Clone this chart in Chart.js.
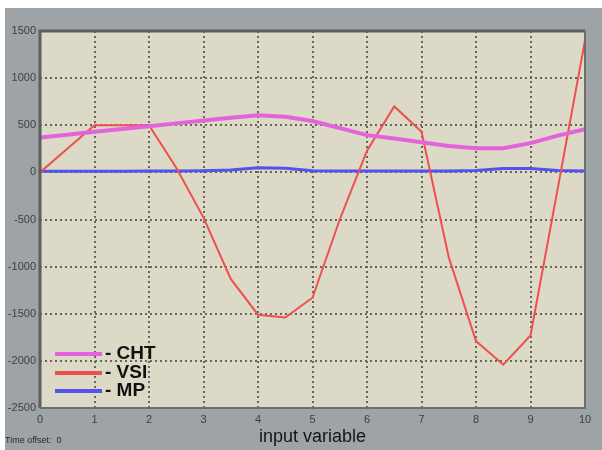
<!DOCTYPE html>
<html>
<head>
<meta charset="utf-8">
<script src="https://cdn.jsdelivr.net/npm/chart.js@4.4.0/dist/chart.umd.min.js"></script>
<style>
  html, body { margin: 0; padding: 0; background: #ffffff; }
  #wrap { position: relative; width: 602px; height: 450px; }
</style>
</head>
<body>
<div id="wrap"><canvas id="grafik"></canvas></div>
<script>
// x positions of the samples
const xDegerleri = [0, 0.5, 1, 1.5, 2, 2.5, 3, 3.5, 4, 4.5, 5, 5.5, 6, 6.5, 7, 7.5, 8, 8.5, 9, 9.5, 10];

// series
const chtDegerleri = [370, 400, 430, 460, 490, 520, 550, 580, 605, 590, 545, 470, 395, 360, 320, 280, 257, 257, 310, 390, 457];
const vsiDegerleri = [0, 250, 500, 500, 500, 50, -480, -1130, -1510, -1540, -1330, -500, 230, 700, 430, -900, -1790, -2040, -1730, -170, 1400];
const mpDegerleri = [12, 12, 12, 12, 15, 15, 18, 25, 50, 45, 18, 15, 15, 15, 15, 15, 20, 40, 40, 20, 15];

const seriAdlari = ["CHT", "VSI", "MP"];
const xTickleri = [0, 1, 2, 3, 4, 5, 6, 7, 8, 9, 10];
const yTickleri = [1500, 1000, 500, 0, -500, -1000, -1500, -2000, -2500];

const eksenBasligi = "input variable";
const altNot = "Time offset:  0";

const yaziTipi = "'Liberation Sans', Arial, sans-serif";
const noktalar = (ys) => xDegerleri.map((x, i) => ({ x: x, y: ys[i] }));

// background, plot frame, legend, footnote
const cizimEklentisi = {
  id: "cizimEklentisi",
  beforeDraw(chart) {
    const { ctx, chartArea: a } = chart;
    ctx.save();
    ctx.fillStyle = "#ffffff";
    ctx.fillRect(0, 0, chart.width, chart.height);
    ctx.fillStyle = "#9da3a7";
    ctx.fillRect(5, 8, chart.width - 5, chart.height - 8);
    ctx.fillStyle = "#dcd9c6";
    ctx.fillRect(a.left, a.top, a.right - a.left, a.bottom - a.top);
    ctx.restore();
  },
  afterDatasetsDraw(chart) {
    const { ctx, chartArea: a } = chart;
    ctx.save();
    // frame
    ctx.strokeStyle = "#5d5f5f";
    ctx.lineWidth = 3;
    ctx.beginPath();
    ctx.moveTo(a.left, a.bottom);
    ctx.lineTo(a.left, a.top);
    ctx.lineTo(a.right, a.top);
    ctx.stroke();
    ctx.lineWidth = 2;
    ctx.strokeStyle = "#6c6e6c";
    ctx.beginPath();
    ctx.moveTo(a.right, a.top);
    ctx.lineTo(a.right, a.bottom);
    ctx.lineTo(a.left, a.bottom);
    ctx.stroke();

    // legend
    const ys = [354, 373, 391];
    chart.data.datasets.forEach((ds, i) => {
      ctx.strokeStyle = ds.borderColor;
      ctx.lineWidth = 4;
      ctx.beginPath();
      ctx.moveTo(55, ys[i]);
      ctx.lineTo(102, ys[i]);
      ctx.stroke();
      ctx.fillStyle = "#111111";
      ctx.font = "bold 19px " + yaziTipi;
      ctx.textBaseline = "middle";
      ctx.textAlign = "left";
      ctx.fillText("- " + ds.label, 105, ys[i]);
    });

    // footnote
    ctx.fillStyle = "#2a2a2a";
    ctx.font = "9px " + yaziTipi;
    ctx.textBaseline = "middle";
    ctx.fillText(altNot, 5, 441);
    ctx.restore();
  }
};

const ctx = document.getElementById("grafik").getContext("2d");
new Chart(ctx, {
  type: "line",
  data: {
    datasets: [
      {
        label: seriAdlari[0],
        data: noktalar(chtDegerleri),
        borderColor: "#e462dc",
        borderWidth: 4,
        pointRadius: 0,
        tension: 0,
      },
      {
        label: seriAdlari[1],
        data: noktalar(vsiDegerleri),
        borderColor: "#ee4f4f",
        borderWidth: 2,
        pointRadius: 0,
        tension: 0,
      },
      {
        label: seriAdlari[2],
        data: noktalar(mpDegerleri),
        borderColor: "#5252ee",
        borderWidth: 3,
        pointRadius: 0,
        tension: 0,
      },
    ],
  },
  options: {
    responsive: true,
    maintainAspectRatio: false,
    animation: false,
    layout: { padding: { top: 31, right: 17, left: 0, bottom: 0 } },
    plugins: {
      legend: { display: false },
      tooltip: { enabled: false },
    },
    scales: {
      x: {
        type: "linear",
        min: 0,
        max: 10,
        afterBuildTicks: (scale) => { scale.ticks = xTickleri.map((v) => ({ value: v })); },
        afterFit: (scale) => { scale.height = 42; },
        border: { display: false, dash: [2, 3] },
        grid: { color: "#66675a", lineWidth: 2, drawTicks: false },
        ticks: {
          padding: 5,
          color: "#3d3f40",
          font: { size: 11, family: yaziTipi },
          maxRotation: 0,
          callback: (v) => String(v),
        },
        title: {
          display: true,
          text: eksenBasligi,
          color: "#151515",
          font: { size: 18, family: yaziTipi },
          padding: { top: 0, bottom: 2 },
        },
      },
      y: {
        min: -2500,
        max: 1500,
        afterBuildTicks: (scale) => { scale.ticks = yTickleri.map((v) => ({ value: v })); },
        afterFit: (scale) => { scale.width = 40; },
        border: { display: false, dash: [2, 3] },
        grid: { color: "#66675a", lineWidth: 2, drawTicks: false },
        ticks: {
          padding: 4,
          color: "#3d3f40",
          font: { size: 11, family: yaziTipi },
          callback: (v) => String(v),
        },
      },
    },
  },
  plugins: [cizimEklentisi],
});
</script>
</body>
</html>
